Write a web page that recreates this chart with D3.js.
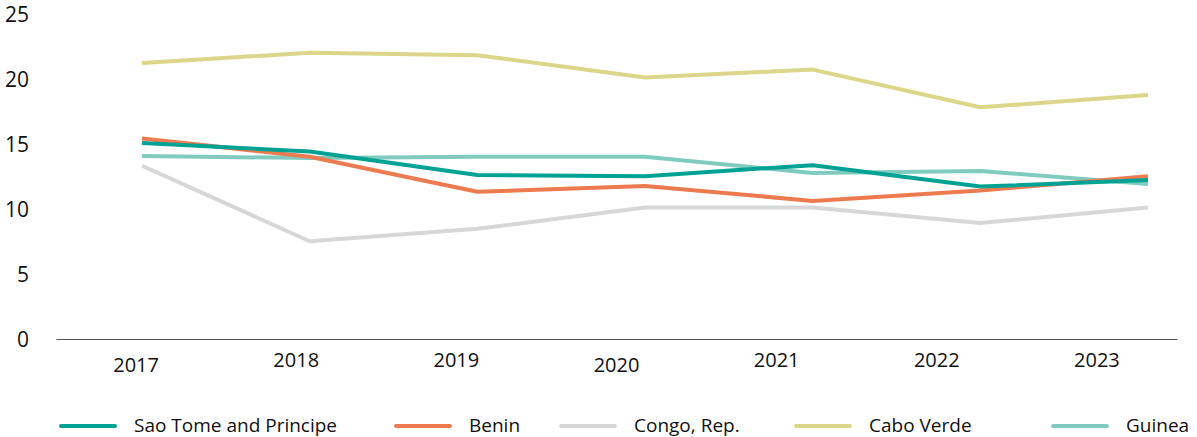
<!DOCTYPE html>
<html>
<head>
<meta charset="utf-8">
<script src="https://cdn.jsdelivr.net/npm/d3@7"></script>
<style>
  html, body { margin: 0; padding: 0; background: #fff; }
  svg text { font-family: "Open Sans", Lato, sans-serif; fill: #111; }
</style>
</head>
<body>
<svg id="chart" width="1197" height="437"></svg>
<script>
const years = ["2017", "2018", "2019", "2020", "2021", "2022", "2023"];
const yTicks = [0, 5, 10, 15, 20, 25];
const seriesNames = ["Sao Tome and Principe", "Benin", "Congo, Rep.", "Cabo Verde", "Guinea"];
const saoTome = [15.15, 14.5, 12.7, 12.6, 13.45, 11.8, 12.3];
const benin   = [15.5, 14.1, 11.4, 11.85, 10.7, 11.5, 12.6];
const congo   = [13.4, 7.6, 8.55, 10.2, 10.2, 9.0, 10.2];
const caboVerde = [21.3, 22.1, 21.9, 20.2, 20.8, 17.9, 18.85];
const guinea  = [14.15, 14.0, 14.1, 14.1, 12.85, 13.0, 12.0];
const colors = ["#00A393", "#EE7B50", "#D7D7D7", "#DCD68A", "#80CBBF"];

const seriesValues = [saoTome, benin, congo, caboVerde, guinea];
const series = seriesNames.map((name, i) => ({ name, values: seriesValues[i], color: colors[i] }));

const svg = d3.select("#chart");

const y = d3.scaleLinear().domain([0, 25]).range([340, 15]);
const xBand = d3.scaleBand().domain(years).range([56, 1177]);
const xLine = d3.scalePoint().domain(years).range([142, 1148]);

// y axis labels
svg.append("g").selectAll("text").data(yTicks).join("text")
  .attr("x", 29).attr("y", d => y(d)).attr("dy", "0.35em")
  .attr("text-anchor", "end").style("font-size", "21px")
  .text(d => d);

// x axis
const xAxis = svg.append("g").attr("transform", "translate(0,339)")
  .call(d3.axisBottom(xBand).tickSize(0).tickPadding(14));
xAxis.select(".domain").attr("stroke", "#555").attr("stroke-width", 1.2);
xAxis.selectAll(".tick text")
  .style("font-size", "20px").style("font-family", "'Open Sans', Lato, sans-serif").attr("fill", "#111")
  .attr("dy", (d) => (d === "2017" || d === "2020") ? "0.96em" : "0.71em");

// lines
const drawOrder = [2, 3, 4, 1, 0];
const line = d3.line().x((d, i) => xLine(years[i])).y(d => y(d));
svg.append("g").selectAll("path").data(drawOrder.map(i => series[i])).join("path")
  .attr("d", d => line(d.values))
  .attr("fill", "none")
  .attr("stroke", d => d.color)
  .attr("stroke-width", 4)
  .attr("stroke-linejoin", "round");

// legend
const legendX = [61, 396, 561, 796, 1053];
const legend = svg.append("g").selectAll("g").data(series).join("g")
  .attr("transform", (d, i) => `translate(${legendX[i]},426)`);
legend.append("line").attr("x1", 0).attr("x2", 54).attr("y1", 0).attr("y2", 0)
  .attr("stroke", d => d.color).attr("stroke-width", 4).attr("stroke-linecap", "round");
legend.append("text").attr("x", 73).attr("y", 0).attr("dy", "0.33em")
  .style("font-size", "19px").text(d => d.name);
</script>
</body>
</html>
